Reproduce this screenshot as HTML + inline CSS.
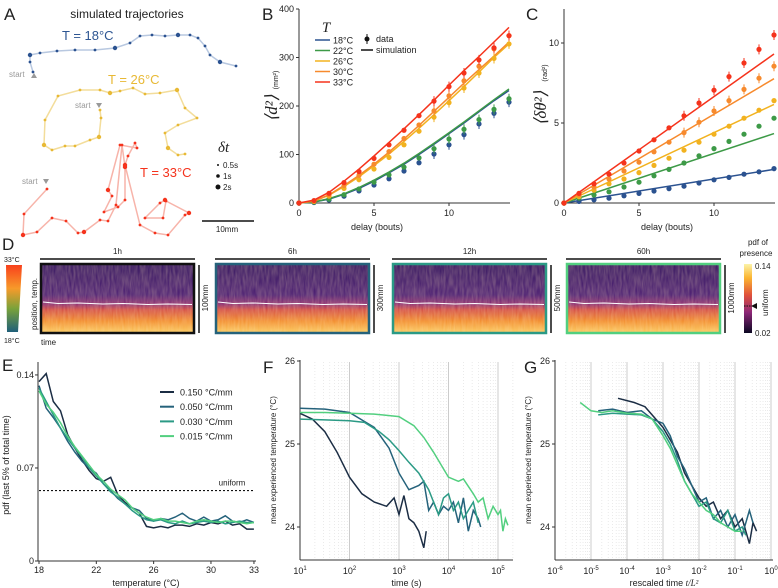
<!DOCTYPE html>
<html><head><meta charset="utf-8">
<style>
html,body{margin:0;padding:0;background:#fff;}
svg{display:block;font-family:"Liberation Sans",sans-serif;}
text{fill:#222;}
</style></head>
<body>
<svg id="fig" width="778" height="588" viewBox="0 0 778 588">
<defs>
  <linearGradient id="tempbar" x1="0" y1="0" x2="0" y2="1">
    <stop offset="0" stop-color="#f8401c"/><stop offset="0.35" stop-color="#f79a2a"/>
    <stop offset="0.65" stop-color="#7aa23a"/><stop offset="1" stop-color="#1f5f7a"/>
  </linearGradient>
  <linearGradient id="pdfbar" x1="0" y1="0" x2="0" y2="1">
    <stop offset="0" stop-color="#fbf3a8"/><stop offset="0.2" stop-color="#fbb531"/>
    <stop offset="0.45" stop-color="#e0513b"/><stop offset="0.7" stop-color="#8d2778"/>
    <stop offset="1" stop-color="#0a0722"/>
  </linearGradient>
  <linearGradient id="heat" x1="0" y1="0" x2="0" y2="1">
    <stop offset="0" stop-color="#2e0f5c"/><stop offset="0.45" stop-color="#451770"/>
    <stop offset="0.58" stop-color="#8a2870"/><stop offset="0.66" stop-color="#d2483f"/>
    <stop offset="0.82" stop-color="#f28a28"/><stop offset="1" stop-color="#fcd263"/>
  </linearGradient>
  <filter id="grain" x="0" y="0" width="100%" height="100%">
    <feTurbulence type="fractalNoise" baseFrequency="0.5 0.08" numOctaves="2" seed="3"/>
    <feColorMatrix values="0 0 0 0 1  0 0 0 0 0.8  0 0 0 0 0.5  0 0 0 0.35 0"/>
    <feComposite in2="SourceGraphic" operator="in"/>
  </filter>
</defs>

<!-- ===== Panel A ===== -->
<g>
  <text x="4" y="20" font-size="17">A</text>
  <text x="127" y="18" font-size="12" text-anchor="middle">simulated trajectories</text>
  <text x="62" y="40" font-size="13" style="fill:#2d5592">T = 18°C</text>
  <text x="108" y="84" font-size="13" style="fill:#e8b935">T = 26°C</text>
  <text x="140" y="177" font-size="13" style="fill:#f5321c">T = 33°C</text>
  <g id="traj"></g>
  <text x="9" y="77" font-size="8" style="fill:#999">start</text>
  <polygon points="31,78 34,73 37,78" fill="#999"/>
  <text x="75" y="108" font-size="8" style="fill:#999">start</text>
  <polygon points="96,103 102,103 99,108" fill="#999"/>
  <text x="22" y="184" font-size="8" style="fill:#999">start</text>
  <polygon points="43,179 49,179 46,184" fill="#999"/>
  <g>
    <text x="218" y="152" font-size="15" font-style="italic" font-family="Liberation Serif">δt</text>
    <circle cx="218" cy="165" r="1" fill="#111"/><text x="223" y="168" font-size="8">0.5s</text>
    <circle cx="218" cy="176" r="1.8" fill="#111"/><text x="223" y="179" font-size="8">1s</text>
    <circle cx="218" cy="187" r="2.5" fill="#111"/><text x="223" y="190" font-size="8">2s</text>
  </g>
  <line x1="202" y1="221" x2="254" y2="221" stroke="#111" stroke-width="1.5"/>
  <text x="227" y="232" font-size="8" text-anchor="middle">10mm</text>
</g>

<g id="pB">
  <text x="262" y="20" font-size="17">B</text>
</g>
<g id="pC">
  <text x="526" y="20" font-size="17">C</text>
</g>

<!-- ===== Panel D ===== -->
<g id="pD">
  <text x="2" y="250" font-size="17">D</text>
  <text x="4" y="262" font-size="7">33°C</text>
  <polygon points="6,265 22,265 18,332 7,332" fill="url(#tempbar)"/>
  <text x="4" y="343" font-size="7">18°C</text>
  <text transform="translate(37,330) rotate(-90)" font-size="8">position, temp.</text>
  <text x="41" y="345" font-size="8">time</text>
  <rect x="744" y="264" width="8" height="69" fill="url(#pdfbar)"/>
  <text x="758" y="245" font-size="8" text-anchor="middle">pdf of</text>
  <text x="756" y="256" font-size="8" text-anchor="middle">presence</text>
  <text x="755" y="269" font-size="8">0.14</text>
  <text x="755" y="336" font-size="8">0.02</text>
  <polygon points="751,306 757,303 757,309" fill="#111"/>
  <line x1="744" y1="306" x2="751" y2="306" stroke="#111" stroke-dasharray="1.5,1"/>
  <text transform="translate(768,316) rotate(-90)" font-size="8">uniform</text>
</g>

<g id="pE">
  <text x="2" y="371" font-size="17">E</text>
</g>
<g id="pF">
  <text x="263" y="373" font-size="17">F</text>
</g>
<g id="pG">
  <text x="524" y="373" font-size="17">G</text>
</g>
</svg>

<script>
// ---------- Data ----------
const delays = [0,1,2,3,4,5,6,7,8,9,10,11,12,13,14];
const tempLabels = ['18°C','22°C','26°C','30°C','33°C'];
const tempColors = ['#2b5290','#3d9a47','#f2b21f','#f78a2d','#f5331c'];
const bData18 = [0,1,6,14,25,37,50,66,83,101,120,141,163,185,208];
const bData22 = [0,2,8,17,29,43,58,74,93,112,132,152,172,193,215];
const bData26 = [0,3,14,30,48,70,94,120,148,177,207,237,268,298,328];
const bData30 = [0,4,17,36,57,80,106,133,161,190,221,252,282,318,345];
const bData33 = [0,5,20,42,65,92,120,150,180,210,240,268,295,320,345];
const bSim18 = [0,2,8,18,30,45,62,80,100,121,143,165,188,211,232];
const bSim22 = [0,2,9,19,32,47,64,82,102,123,145,167,190,213,235];
const bSim26 = [0,4,16,34,54,77,101,127,154,182,211,240,270,300,328];
const bSim30 = [0,4,17,36,57,80,105,132,160,189,218,247,275,303,332];
const bSim33 = [0,6,22,45,70,97,125,153,182,212,243,273,302,332,362];
const cData18 = [0,0.1,0.2,0.3,0.45,0.6,0.75,0.9,1.05,1.25,1.45,1.6,1.8,1.95,2.15];
const cData22 = [0,0.3,0.5,0.7,1.0,1.3,1.7,2.1,2.5,2.95,3.4,3.85,4.3,4.8,5.3];
const cData26 = [0,0.4,0.8,1.2,1.5,1.9,2.35,2.8,3.3,3.8,4.3,4.8,5.3,5.8,6.4];
const cData30 = [0,0.5,1.0,1.5,2.0,2.55,3.2,3.8,4.4,5.05,5.75,6.4,7.1,7.8,8.55];
const cData33 = [0,0.6,1.2,1.8,2.5,3.25,3.95,4.7,5.45,6.25,7.05,7.9,8.75,9.6,10.5];
const cSlope = [0.15,0.31,0.44,0.555,0.665];
const eTemps = [18,18.5,19,19.5,20,20.5,21,21.5,22,22.5,23,23.5,24,24.5,25,25.5,26,26.5,27,27.5,28,28.5,29,29.5,30,30.5,31,31.5,32,32.5,33];
const e150 = [0.135,0.141,0.12,0.113,0.095,0.085,0.076,0.068,0.062,0.06,0.063,0.05,0.044,0.04,0.036,0.026,0.025,0.026,0.025,0.027,0.027,0.026,0.028,0.027,0.029,0.028,0.03,0.027,0.028,0.024,0.024];
const e050 = [0.132,0.115,0.108,0.1,0.09,0.082,0.075,0.07,0.066,0.058,0.053,0.047,0.043,0.04,0.038,0.032,0.03,0.032,0.031,0.033,0.036,0.032,0.03,0.033,0.03,0.031,0.034,0.03,0.029,0.031,0.029];
const e030 = [0.13,0.12,0.11,0.1,0.092,0.085,0.078,0.07,0.064,0.058,0.052,0.048,0.043,0.038,0.034,0.031,0.03,0.031,0.029,0.028,0.03,0.028,0.029,0.03,0.029,0.03,0.028,0.029,0.03,0.029,0.029];
const e015 = [0.128,0.118,0.112,0.104,0.094,0.086,0.079,0.072,0.065,0.06,0.054,0.05,0.046,0.04,0.036,0.033,0.031,0.032,0.03,0.03,0.029,0.028,0.03,0.031,0.03,0.029,0.03,0.03,0.029,0.028,0.029];
const eUniform = 0.053;
const gradLabels = ['0.150 °C/mm','0.050 °C/mm','0.030 °C/mm','0.015 °C/mm'];
const gradColors = ['#1b2d44','#25627b','#2b9a85','#52cf7f'];
const f150x = [1,1.25,1.5,1.75,2,2.25,2.5,2.75,2.9,3.0,3.1,3.2,3.3,3.4,3.5,3.55];
const f150y = [25.37,25.3,25.15,24.9,24.6,24.4,24.3,24.25,24.35,24.15,24.38,24.1,24.05,23.95,23.75,23.95];
const f050x = [1,1.5,2,2.5,2.8,3.0,3.2,3.4,3.5,3.6,3.7,3.8,3.9,4.0,4.1,4.2,4.3,4.4,4.5,4.6,4.65];
const f050y = [25.43,25.42,25.38,25.2,24.95,24.65,24.45,24.5,24.55,24.2,24.3,24.15,24.25,24.2,24.3,24.05,24.35,23.95,24.2,24.1,24.0];
const f030x = [1,1.5,2,2.3,2.6,2.8,3.0,3.2,3.4,3.6,3.7,3.8,3.9,4.0,4.1,4.2,4.3,4.4,4.5,4.6];
const f030y = [25.3,25.29,25.28,25.26,25.15,25.05,24.92,24.78,24.65,24.45,24.3,24.15,24.35,24.4,24.2,24.3,24.1,24.2,24.3,24.05];
const f015x = [1,1.5,2,2.5,3,3.3,3.5,3.7,3.9,4.0,4.2,4.3,4.5,4.6,4.7,4.8,4.9,5.0,5.05,5.1,5.15,5.2];
const f015y = [25.38,25.38,25.37,25.36,25.33,25.22,25.08,24.9,24.7,24.6,24.55,24.58,24.4,24.3,24.35,24.1,24.25,24.15,24.2,23.95,24.1,24.02];
const g150x = [-4.25,-3.8,-3.5,-3.2,-3.0,-2.8,-2.6,-2.4,-2.2,-2.0,-1.8,-1.6,-1.4,-1.2,-1.0,-0.8,-0.6,-0.5,-0.4];
const g150y = [25.55,25.5,25.45,25.3,25.2,25.05,24.9,24.65,24.5,24.35,24.25,24.3,24.1,24.2,24.0,24.1,23.8,24.05,23.95];
const g050x = [-4.8,-4.4,-4.0,-3.6,-3.3,-3.0,-2.8,-2.6,-2.4,-2.2,-2.0,-1.8,-1.6,-1.4,-1.2,-1.0,-0.8,-0.6,-0.5];
const g050y = [25.4,25.42,25.38,25.4,25.3,25.25,25.1,24.85,24.7,24.5,24.3,24.35,24.1,24.2,24.0,24.15,23.9,24.2,24.05];
const g030x = [-4.8,-4.4,-4.0,-3.6,-3.3,-3.0,-2.8,-2.6,-2.4,-2.2,-2.0,-1.8,-1.6,-1.4,-1.2,-1.0,-0.8,-0.7];
const g030y = [25.35,25.37,25.36,25.35,25.3,25.15,25.0,24.8,24.55,24.4,24.25,24.3,24.1,24.05,24.2,23.95,24.0,23.9];
const g015x = [-5.3,-5.0,-4.7,-4.4,-4.0,-3.6,-3.3,-3.0,-2.8,-2.6,-2.4,-2.2,-2.0,-1.8,-1.6,-1.4,-1.2,-1.0,-0.8];
const g015y = [25.5,25.4,25.38,25.4,25.37,25.36,25.3,25.1,24.95,24.75,24.55,24.4,24.3,24.2,24.15,24.05,24.0,23.95,23.95];
const dLabels = ['1h','6h','12h','60h'];
const dSizes = ['100mm','300mm','500mm','1000mm'];
const dBorders = ['#111','#25627b','#2b9a85','#52cf7f'];

// ---------- helpers ----------
const NS = 'http://www.w3.org/2000/svg';
function mk(tag, parent, attrs){const e=document.createElementNS(NS,tag);for(const k in attrs)e.setAttribute(k,attrs[k]);parent.appendChild(e);return e;}
function txt(parent,x,y,s,size,anchor,extra){const t=mk('text',parent,Object.assign({x:x,y:y,'font-size':size,'text-anchor':anchor||'start'},extra||{}));t.textContent=s;return t;}
function poly(xs,ys,sx,sy){return xs.map((v,i)=>sx(v).toFixed(1)+','+sy(ys[i]).toFixed(1)).join(' ');}

// ---------- Panel A trajectories (illustration) ----------
(function(){
  const g=document.getElementById('traj');
  const paths=[
    {c:'#2b5290',lc:'#b8c8e0',p:[[33,72],[30,62],[30,55],[40,53],[57,51],[75,50],[95,50],[115,48],[130,43],[140,36],[152,35],[165,36],[178,35],[190,35],[198,38],[205,46],[210,55],[220,62],[236,66]]},
    {c:'#e8b935',lc:'#f3dd9b',p:[[100,110],[101,118],[99,137],[90,140],[75,146],[65,146],[52,150],[44,145],[45,120],[58,96],[80,90],[100,90],[110,93],[120,91],[133,88],[145,94],[160,93],[177,90],[185,108],[197,118],[178,125],[165,133],[168,148],[178,155],[185,154]]},
    {c:'#f5331c',lc:'#f7b4aa',p:[[47,189],[24,214],[23,235],[37,232],[52,218],[66,221],[78,233],[84,232],[100,220],[108,221],[116,205],[122,145],[125,167],[125,200],[118,207],[104,212],[112,196],[108,190],[120,145],[137,148],[135,143],[128,156],[125,165],[140,225],[155,233],[168,235],[185,215],[189,213],[166,201],[163,218],[145,218],[160,203],[165,200]]}
  ];
  paths.forEach((tr,k)=>{
    const pl=mk('polyline',g,{points:tr.p.map(q=>q.join(',')).join(' '),fill:'none',stroke:tr.lc,'stroke-width':1.5});
    
    
    tr.p.forEach((q,i)=>{const c=mk('circle',g,{cx:q[0],cy:q[1],r:(i%5===2?2.2:1.4),fill:tr.c});
      
      });
  });
})();

// ---------- Panel B ----------
(function(){
  const g=document.getElementById('pB');
  const sx=v=>299+v*15, sy=v=>203-v*0.485;
  mk('line',g,{x1:299,y1:9,x2:299,y2:203,stroke:'#333'});
  mk('line',g,{x1:299,y1:203,x2:510,y2:203,stroke:'#333'});
  [0,100,200,300,400].forEach(v=>{mk('line',g,{x1:296,x2:299,y1:sy(v),y2:sy(v),stroke:'#333'});txt(g,294,sy(v)+3,String(v),9,'end');});
  [0,5,10].forEach(v=>{mk('line',g,{x1:sx(v),x2:sx(v),y1:203,y2:206,stroke:'#333'});txt(g,sx(v),216,String(v),9,'middle');});
  txt(g,377,230,'delay (bouts)',9,'middle');
  const yl=txt(g,0,0,'⟨d²⟩',17,'middle',{transform:'translate(277,108) rotate(-90)','font-family':'Liberation Serif','font-style':'italic'});
  
  txt(g,0,0,'(mm²)',7,'middle',{transform:'translate(278,80) rotate(-90)'});
  const sims=[bSim18,bSim22,bSim26,bSim30,bSim33], dats=[bData18,bData22,bData26,bData30,bData33];
  sims.forEach((s,k)=>{const l=mk('polyline',g,{points:poly(delays,s,sx,sy),fill:'none',stroke:tempColors[k],'stroke-width':1.5});
    
    });
  dats.forEach((d,k)=>d.forEach((v,i)=>{const c=mk('circle',g,{cx:sx(delays[i]),cy:sy(v),r:2.6,fill:tempColors[k]});
    
    
    if(i>8) mk('line',g,{x1:sx(delays[i]),x2:sx(delays[i]),y1:sy(v)-5,y2:sy(v)+5,stroke:tempColors[k]});}));
  txt(g,326,32,'T',15,'middle',{'font-family':'Liberation Serif','font-style':'italic'});
  tempLabels.forEach((t,k)=>{const y=40+k*10.5;mk('line',g,{x1:315,x2:330,y1:y,y2:y,stroke:tempColors[k],'stroke-width':1.5});
    const e=txt(g,333,y+3.5,t,9);});
  mk('circle',g,{cx:367,cy:39,r:2.5,fill:'#111'});mk('line',g,{x1:367,x2:367,y1:34,y2:44,stroke:'#111'});
  txt(g,376,42,'data',9);
  mk('line',g,{x1:361,x2:373,y1:50,y2:50,stroke:'#111','stroke-width':1.5});txt(g,376,53,'simulation',9);
})();

// ---------- Panel C ----------
(function(){
  const g=document.getElementById('pC');
  const sx=v=>564+v*15, sy=v=>203-v*16;
  mk('line',g,{x1:564,y1:9,x2:564,y2:203,stroke:'#333'});
  mk('line',g,{x1:564,y1:203,x2:775,y2:203,stroke:'#333'});
  [0,5,10].forEach(v=>{mk('line',g,{x1:561,x2:564,y1:sy(v),y2:sy(v),stroke:'#333'});txt(g,559,sy(v)+3,String(v),9,'end');});
  [0,5,10].forEach(v=>{mk('line',g,{x1:sx(v),x2:sx(v),y1:203,y2:206,stroke:'#333'});txt(g,sx(v),216,String(v),9,'middle');});
  txt(g,667,230,'delay (bouts)',9,'middle');
  txt(g,0,0,'⟨δθ²⟩',17,'middle',{transform:'translate(546,108) rotate(-90)','font-family':'Liberation Serif','font-style':'italic'});
  txt(g,0,0,'(rad²)',7,'middle',{transform:'translate(547,73) rotate(-90)'});
  const dats=[cData18,cData22,cData26,cData30,cData33];
  cSlope.forEach((s,k)=>{const l=mk('line',g,{x1:sx(0),y1:sy(0),x2:sx(14),y2:sy(14*s),stroke:tempColors[k],'stroke-width':1.5});
    
    });
  dats.forEach((d,k)=>d.forEach((v,i)=>{const c=mk('circle',g,{cx:sx(delays[i]),cy:sy(v),r:2.6,fill:tempColors[k]});
    
    
    if(k>=3&&i>7) mk('line',g,{x1:sx(delays[i]),x2:sx(delays[i]),y1:sy(v)-5,y2:sy(v)+5,stroke:tempColors[k]});}));
})();

// ---------- Panel D ----------
(function(){
  const g=document.getElementById('pD');
  const xs=[40,215,392,566];
  dLabels.forEach((lab,k)=>{
    const x=xs[k], w=155;
    txt(g,x+w/2,254,lab,8,'middle');
    mk('line',g,{x1:x,x2:x+w,y1:259,y2:259,stroke:'#111','stroke-width':1.5});
    const r=mk('rect',g,{x:x,y:263,width:w,height:71,fill:'url(#heat)'});
    
    
    mk('rect',g,{x:x,y:263,width:w,height:71,fill:'#fff',filter:'url(#grain)'});
    mk('rect',g,{x:x+1,y:264,width:w-2,height:69,fill:'none',stroke:dBorders[k],'stroke-width':2.5});
    mk('path',g,{d:`M${x+3},302 l15,1.5 l20,-0.5 l25,1 l20,-0.5 l25,1 l20,-0.5 l24,0.5`,fill:'none',stroke:'#fff','stroke-width':1});
    mk('line',g,{x1:x+w+4,x2:x+w+4,y1:265,y2:333,stroke:'#111','stroke-width':1.5});
    txt(g,0,0,dSizes[k],8,'middle',{transform:`translate(${x+w+13},298) rotate(-90)`});
  });
})();

// ---------- Panel E ----------
(function(){
  const g=document.getElementById('pE');
  const sx=v=>39+(v-18)*14.33, sy=v=>561-v*1329;
  mk('line',g,{x1:38,y1:362,x2:38,y2:561,stroke:'#333'});
  mk('line',g,{x1:38,y1:561,x2:256,y2:561,stroke:'#333'});
  [0,0.07,0.14].forEach(v=>{mk('line',g,{x1:35,x2:38,y1:sy(v),y2:sy(v),stroke:'#333'});txt(g,34,sy(v)+3,String(v),9,'end');});
  [18,22,26,30,33].forEach(v=>{mk('line',g,{x1:sx(v),x2:sx(v),y1:561,y2:564,stroke:'#333'});txt(g,sx(v),573,String(v),9,'middle');});
  txt(g,146,586,'temperature (°C)',9,'middle');
  txt(g,0,0,'pdf (last 5% of total time)',9,'middle',{transform:'translate(9,465) rotate(-90)'});
  mk('line',g,{x1:39,x2:254,y1:sy(eUniform),y2:sy(eUniform),stroke:'#111','stroke-dasharray':'2,2','stroke-width':1.2});
  txt(g,232,sy(eUniform)-5,'uniform',8,'middle');
  [e150,e050,e030,e015].forEach((s,k)=>{const l=mk('polyline',g,{points:poly(eTemps,s,sx,sy),fill:'none',stroke:gradColors[k],'stroke-width':1.5});
    
    });
  gradLabels.forEach((t,k)=>{const y=392+k*14.7;mk('line',g,{x1:160,x2:174,y1:y,y2:y,stroke:gradColors[k],'stroke-width':2});
    const e=txt(g,180,y+3.5,t,9);});
})();

// ---------- log axes (F, G) ----------
function logPanel(id,x0,lmin,lmax,pxPerDec,xEnd,xlabel,series,xarr){
  const g=document.getElementById(id);
  const sx=v=>x0+(v-lmin)*pxPerDec, sy=v=>444-(v-25)*83;
  for(let d=lmin;d<=lmax;d++){
    if(d>lmin) mk('line',g,{x1:sx(d),x2:sx(d),y1:362,y2:560,stroke:'#ccc','stroke-width':1});
    for(let m=2;m<10;m++){const xx=sx(d+Math.log10(m));if(xx<xEnd) mk('line',g,{x1:xx,x2:xx,y1:362,y2:560,stroke:'#ddd','stroke-width':0.6,'stroke-dasharray':'1,2'});}
  }
  mk('line',g,{x1:x0,y1:360,x2:x0,y2:560,stroke:'#333'});
  mk('line',g,{x1:x0,y1:560,x2:xEnd,y2:560,stroke:'#333'});
  [24,25,26].forEach(v=>{mk('line',g,{x1:x0-3,x2:x0,y1:sy(v),y2:sy(v),stroke:'#333'});txt(g,x0-5,sy(v)+3,String(v),9,'end');});
  for(let d=lmin;d<=lmax;d++){const t=txt(g,sx(d),574,'10',9,'middle');const s=mk('tspan',t,{dy:-4,'font-size':6});s.textContent=String(d);}
  txt(g,0,0,'mean experienced temperature (°C)',8,'middle',{transform:`translate(${x0-24},460) rotate(-90)`});
  const xl=txt(g,(x0+xEnd)/2,586,xlabel,9,'middle');
  series.forEach((s,k)=>{const l=mk('polyline',g,{points:poly(xarr[k],s,sx,sy),fill:'none',stroke:gradColors[k],'stroke-width':1.5});
    
    });
  return xl;
}
logPanel('pF',300,1,5,49.5,513,'time (s)',[f150y,f050y,f030y,f015y],[f150x,f050x,f030x,f015x]);
const gl=logPanel('pG',555,-6,0,36,773,'rescaled time  ',[g150y,g050y,g030y,g015y],[g150x,g050x,g030x,g015x]);
(function(){const s=document.createElementNS(NS,'tspan');s.setAttribute('font-family','Liberation Serif');s.setAttribute('font-style','italic');s.textContent='t/L²';gl.appendChild(s);})();
</script>
</body></html>
